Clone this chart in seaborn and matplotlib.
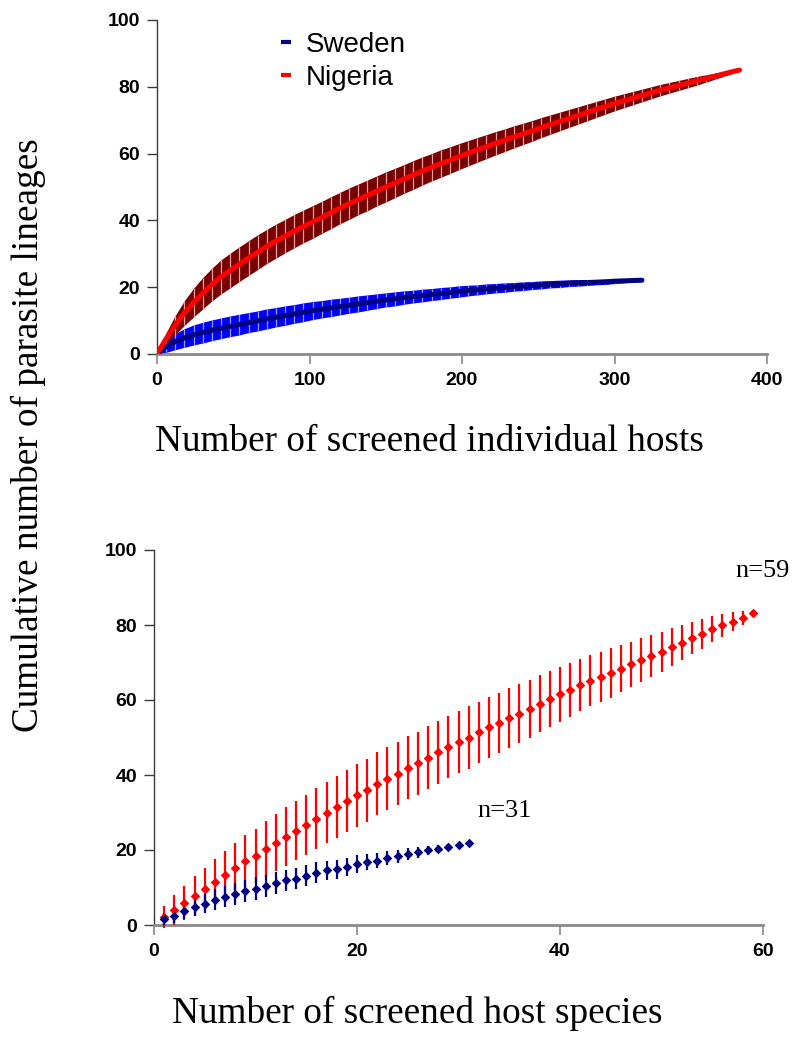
import numpy as np
import pandas as pd
import matplotlib
matplotlib.use("Agg")
import matplotlib.pyplot as plt
from matplotlib.lines import Line2D
import seaborn as sns

# ---------------- data: top panel (individual hosts) ----------------
nig_hosts = [0, 6, 12, 18, 24, 30, 36, 42, 48, 54, 60, 66, 72, 78, 84, 90, 96, 102, 108, 114,
             120, 126, 132, 138, 144, 150, 156, 162, 168, 174, 180, 186, 192, 198, 204, 210,
             216, 222, 228, 234, 240, 246, 252, 258, 264, 270, 276, 282, 288, 294, 300, 306,
             312, 318, 324, 330, 336, 342, 348, 354, 360, 366, 372, 378, 382]
nig_mean = [0, 4.6, 8.7, 12.3, 15.4, 18.2, 20.8, 23.1, 25.0, 26.9, 28.7, 30.5, 32.2, 33.8, 35.3,
            36.8, 38.2, 39.5, 40.9, 42.3, 43.7, 45.0, 46.3, 47.5, 48.8, 50.0, 51.2, 52.4, 53.6,
            54.8, 55.9, 57.0, 58.0, 59.1, 60.1, 61.1, 62.1, 63.1, 64.0, 65.0, 65.9, 66.8, 67.8,
            68.7, 69.6, 70.5, 71.4, 72.3, 73.2, 74.1, 75.0, 75.8, 76.6, 77.4, 78.2, 79.0, 79.7,
            80.4, 81.1, 81.8, 82.5, 83.2, 83.9, 84.6, 85.0]
nig_sd = [0, 1.8, 2.9, 3.7, 4.3, 4.7, 4.9, 5.1, 5.2, 5.2, 5.2, 5.2, 5.1, 5.1, 5.0, 5.0, 4.9, 4.9,
          4.8, 4.8, 4.7, 4.7, 4.6, 4.6, 4.5, 4.5, 4.4, 4.3, 4.3, 4.2, 4.1, 4.1, 4.0, 3.9, 3.8,
          3.7, 3.6, 3.5, 3.4, 3.3, 3.2, 3.1, 3.0, 2.9, 2.8, 2.7, 2.6, 2.5, 2.4, 2.3, 2.2, 2.1,
          2.0, 1.9, 1.8, 1.7, 1.6, 1.5, 1.4, 1.3, 1.1, 0.9, 0.7, 0.5, 0.3]

swe_hosts = [0, 6, 12, 18, 24, 30, 36, 42, 48, 54, 60, 66, 72, 78, 84, 90, 96, 102, 108, 114,
             120, 126, 132, 138, 144, 150, 156, 162, 168, 174, 180, 186, 192, 198, 204, 210,
             216, 222, 228, 234, 240, 246, 252, 258, 264, 270, 276, 282, 288, 294, 300, 306,
             312, 318]
swe_mean = [0, 2.2, 3.7, 4.8, 5.7, 6.4, 7.1, 7.7, 8.3, 8.8, 9.4, 9.9, 10.5, 11.0, 11.5, 12.0,
            12.5, 13.0, 13.4, 13.8, 14.2, 14.6, 15.0, 15.4, 15.8, 16.2, 16.5, 16.9, 17.2, 17.5,
            17.8, 18.1, 18.4, 18.7, 19.0, 19.2, 19.5, 19.7, 19.9, 20.1, 20.3, 20.5, 20.7, 20.9,
            21.0, 21.2, 21.3, 21.4, 21.5, 21.6, 21.8, 21.9, 22.0, 22.1]
swe_sd = [0, 1.7, 2.4, 2.8, 3.0, 3.1, 3.1, 3.1, 3.1, 3.1, 3.0, 3.0, 3.0, 2.9, 2.9, 2.8, 2.8,
          2.7, 2.6, 2.6, 2.5, 2.4, 2.4, 2.3, 2.2, 2.1, 2.1, 2.0, 1.9, 1.9, 1.8, 1.8, 1.7, 1.7,
          1.6, 1.5, 1.5, 1.4, 1.4, 1.3, 1.3, 1.2, 1.2, 1.1, 1.1, 1.0, 1.0, 0.9, 0.8, 0.8, 0.7,
          0.6, 0.5, 0.4]

# ---------------- data: bottom panel (host species) ----------------
nig_species = list(range(1, 60))
nig_sp_mean = [2.1, 4.1, 5.9, 7.8, 9.7, 11.6, 13.4, 15.2, 17.1, 18.5, 20.3, 22.0, 23.6, 25.2,
               26.8, 28.4, 30.0, 31.5, 33.1, 34.6, 36.0, 37.7, 39.0, 40.4, 42.0, 43.2, 44.6,
               46.1, 47.4, 48.8, 50.0, 51.4, 52.7, 53.8, 55.2, 56.4, 57.7, 59.0, 60.3, 61.5,
               62.8, 64.0, 65.2, 66.1, 67.2, 68.4, 69.5, 70.6, 71.7, 72.9, 74.1, 75.3, 76.5,
               77.6, 78.9, 79.9, 80.9, 81.9, 83.1]
nig_sp_sd = [3.0, 4.0, 4.6, 5.2, 5.6, 5.9, 6.3, 6.6, 6.9, 7.2, 7.4, 7.6, 7.8, 7.9, 8.0, 8.1,
             8.2, 8.3, 8.3, 8.4, 8.4, 8.4, 8.4, 8.4, 8.4, 8.4, 8.4, 8.4, 8.3, 8.3, 8.3, 8.2,
             8.1, 8.0, 7.9, 7.8, 7.7, 7.6, 7.5, 7.3, 7.2, 7.0, 6.9, 6.7, 6.6, 6.3, 6.1, 5.9,
             5.6, 5.3, 5.0, 4.7, 4.3, 3.9, 3.5, 3.0, 2.5, 1.8, 0.0]

swe_species = list(range(1, 32))
swe_sp_mean = [1.6, 2.5, 3.8, 4.8, 5.7, 6.8, 7.6, 8.2, 9.1, 9.7, 10.4, 11.2, 11.9, 12.4, 13.2,
               14.0, 14.6, 14.9, 15.6, 16.3, 16.8, 17.2, 17.9, 18.3, 18.9, 19.4, 20.0, 20.4,
               20.8, 21.3, 22.0]
swe_sp_sd = [1.5, 2.0, 2.2, 2.4, 2.6, 2.7, 2.8, 2.9, 3.0, 3.0, 3.0, 3.0, 2.9, 2.9, 2.8, 2.7,
             2.6, 2.5, 2.4, 2.3, 2.2, 2.0, 1.9, 1.7, 1.6, 1.4, 1.2, 1.0, 0.8, 0.6, 0.0]

series_names = ["Sweden", "Nigeria"]
top_xticks = [0, 100, 200, 300, 400]
bot_xticks = [0, 20, 40, 60]
yticks = [0, 20, 40, 60, 80, 100]
n_labels = ["n=59", "n=31"]

# ---------------- styling ----------------
sns.set_theme(style="white")
plt.rcParams["font.family"] = ["Liberation Sans", "DejaVu Sans"]
plt.rcParams["text.color"] = "black"
plt.rcParams["xtick.color"] = "black"
plt.rcParams["ytick.color"] = "black"

RED = "#FF0000"
DARKRED = "#780000"
NAVY = "#000080"
BLUE = "#0000FF"

fig = plt.figure(figsize=(7.95, 10.46), dpi=100)
ax1 = fig.add_axes([157 / 795, 1 - 354 / 1046, 610 / 795, 334 / 1046])
ax2 = fig.add_axes([154 / 795, 1 - 925 / 1046, 609 / 795, 375 / 1046])

serif = ["Liberation Serif", "DejaVu Serif"]


def style_axes(ax):
    for s in ["top", "right"]:
        ax.spines[s].set_visible(False)
    ax.spines["left"].set_color("#3a3a3a")
    ax.spines["left"].set_linewidth(1.0)
    ax.spines["bottom"].set_color("#8a8a8a")
    ax.spines["bottom"].set_linewidth(2.0)
    ax.tick_params(axis="y", direction="out", length=7, width=1, color="#3a3a3a",
                   left=True, pad=5, labelsize=14, labelcolor="black")
    ax.tick_params(axis="x", direction="out", length=7, width=1.2, color="#8a8a8a",
                   bottom=True, pad=6, labelsize=14, labelcolor="black")
    for lab in ax.get_xticklabels() + ax.get_yticklabels():
        lab.set_fontweight("bold")
        lab.set_family(["Liberation Sans", "DejaVu Sans"])
    ax.grid(False)
    ax.set_facecolor("white")


# ---------------- top panel ----------------
top_df = pd.concat([
    pd.DataFrame({"hosts": swe_hosts, "lineages": swe_mean, "sd": swe_sd, "country": series_names[0]}),
    pd.DataFrame({"hosts": nig_hosts, "lineages": nig_mean, "sd": nig_sd, "country": series_names[1]}),
], ignore_index=True)

for country, band_col, gap_col, line_col in [("Sweden", BLUE, "#9a9aff", NAVY),
                                             ("Nigeria", DARKRED, "#e6a0a0", RED)]:
    d = top_df[top_df["country"] == country]
    lo = d["lineages"] - d["sd"]
    hi = d["lineages"] + d["sd"]
    ax1.fill_between(d["hosts"], lo, hi, color=band_col, linewidth=0, zorder=2)
    ax1.vlines(d["hosts"], lo, hi, color=gap_col, linewidth=0.9, zorder=2.5)
    sns.lineplot(data=d, x="hosts", y="lineages", color=line_col, linewidth=3.6,
                 ax=ax1, zorder=3, legend=False)

ax1.set_xlim(0, 400)
ax1.set_ylim(0, 100)
ax1.set_xticks(top_xticks)
ax1.set_yticks(yticks)
ax1.set_xlabel("Number of screened individual hosts", family=serif, fontsize=26.8, color="black")
ax1.xaxis.set_label_coords(0.446, -0.21)
ax1.set_ylabel("")
style_axes(ax1)

handles = [Line2D([], [], color=NAVY, marker="_", linestyle="None", markersize=7, markeredgewidth=3),
           Line2D([], [], color=RED, marker="_", linestyle="None", markersize=7, markeredgewidth=3)]
ax1.legend(handles, series_names, loc="upper left", bbox_to_anchor=(0.203, 0.965),
           frameon=False, fontsize=20, handlelength=0.4, handletextpad=0.5,
           labelspacing=0.27, borderpad=0, borderaxespad=0)

# ---------------- bottom panel ----------------
bot_df = pd.concat([
    pd.DataFrame({"species": nig_species, "lineages": nig_sp_mean, "sd": nig_sp_sd, "country": series_names[1]}),
    pd.DataFrame({"species": swe_species, "lineages": swe_sp_mean, "sd": swe_sp_sd, "country": series_names[0]}),
], ignore_index=True)

for country, col in [("Nigeria", RED), ("Sweden", NAVY)]:
    d = bot_df[bot_df["country"] == country]
    ax2.vlines(d["species"], d["lineages"] - d["sd"], d["lineages"] + d["sd"],
               color=col, linewidth=1.6, zorder=3, clip_on=False)
    sns.scatterplot(data=d, x="species", y="lineages", marker="D", s=24, color=col,
                    linewidth=0, ax=ax2, zorder=4, legend=False, clip_on=False)

ax2.set_xlim(0, 60)
ax2.set_ylim(0, 100)
ax2.set_xticks(bot_xticks)
ax2.set_yticks(yticks)
ax2.set_xlabel("Number of screened host species", family=serif, fontsize=26.8, color="black")
ax2.xaxis.set_label_coords(0.432, -0.19)
ax2.set_ylabel("")
style_axes(ax2)

ax2.text(60.0, 94.3, n_labels[0], family=serif, fontsize=19, ha="center", va="center")
ax2.text(34.5, 30.4, n_labels[1], family=serif, fontsize=19, ha="center", va="center")

fig.text(28 / 795, 1 - 435 / 1046, "Cumulative number of parasite lineages", family=serif,
         fontsize=26.8, rotation=90, ha="center", va="center")

fig.savefig("out.png", dpi=100, facecolor="white")
